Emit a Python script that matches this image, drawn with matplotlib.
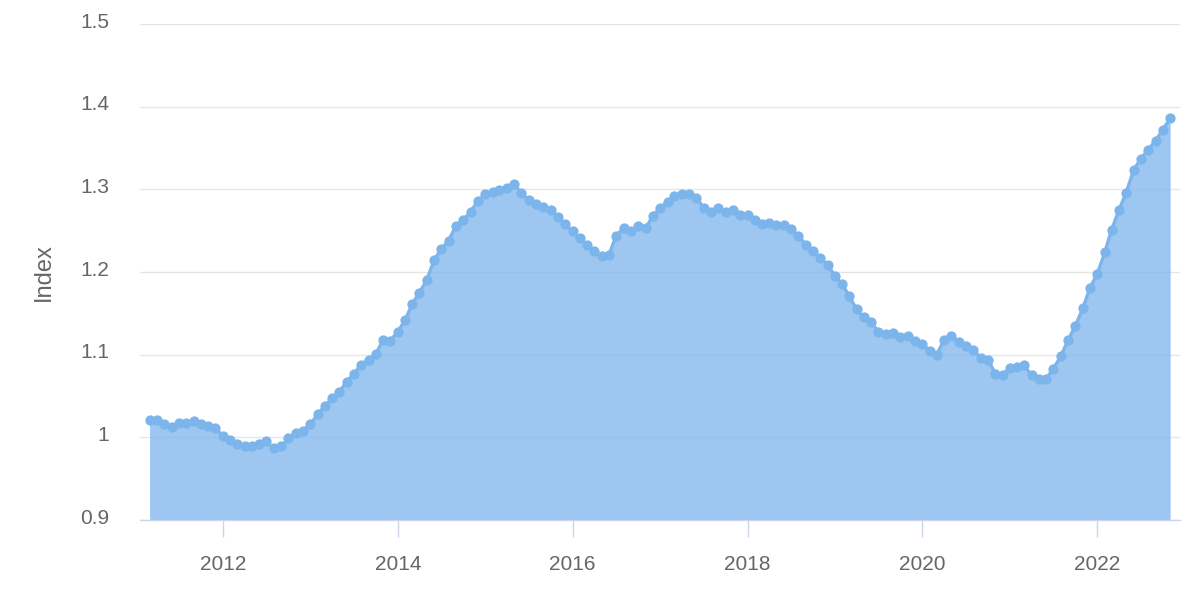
import numpy as np
import pandas as pd
import matplotlib
matplotlib.use("Agg")
import matplotlib.pyplot as plt
import matplotlib.dates as mdates
from matplotlib.transforms import ScaledTranslation

plt.rcParams['font.family'] = ['Liberation Sans', 'DejaVu Sans']

# monthly index, first point March 2011
start_month = "2011-03-01"
index_values = [
    1.021, 1.021, 1.016, 1.013, 1.017, 1.017, 1.020, 1.016, 1.014, 1.011,
    1.002, 0.997, 0.992, 0.989, 0.989, 0.992, 0.995, 0.987, 0.989, 0.999,
    1.005, 1.008, 1.016, 1.028, 1.038, 1.047, 1.055, 1.067, 1.077, 1.088,
    1.094, 1.101, 1.118, 1.117, 1.128, 1.142, 1.161, 1.175, 1.190, 1.214,
    1.228, 1.238, 1.256, 1.263, 1.273, 1.286, 1.294, 1.297, 1.299, 1.302,
    1.306, 1.296, 1.287, 1.282, 1.279, 1.275, 1.266, 1.258, 1.249, 1.241,
    1.233, 1.225, 1.219, 1.221, 1.244, 1.253, 1.249, 1.256, 1.253, 1.268,
    1.278, 1.285, 1.292, 1.294, 1.294, 1.290, 1.278, 1.273, 1.278, 1.272,
    1.275, 1.269, 1.269, 1.263, 1.258, 1.259, 1.257, 1.257, 1.252, 1.244,
    1.233, 1.225, 1.217, 1.209, 1.195, 1.185, 1.171, 1.155, 1.145, 1.139,
    1.128, 1.125, 1.126, 1.121, 1.123, 1.116, 1.113, 1.105, 1.100, 1.118,
    1.123, 1.115, 1.110, 1.106, 1.096, 1.094, 1.077, 1.076, 1.084, 1.085,
    1.087, 1.075, 1.071, 1.071, 1.083, 1.098, 1.118, 1.135, 1.156, 1.181,
    1.198, 1.224, 1.251, 1.275, 1.296, 1.323, 1.337, 1.348, 1.359, 1.372,
    1.386,
]
y_ticks = [0.9, 1.0, 1.1, 1.2, 1.3, 1.4, 1.5]
y_tick_labels = ["0.9", "1", "1.1", "1.2", "1.3", "1.4", "1.5"]

dates = pd.date_range(start_month, periods=len(index_values), freq="MS")

line_col = "#7cb5ec"
text_col = "#666666"

fig = plt.figure(figsize=(12, 6.16), dpi=100)
ax = fig.add_axes([140 / 1200, 96 / 616, 1040 / 1200, 496 / 616])

ax.fill_between(dates, index_values, 0.9, color=line_col, alpha=0.75, linewidth=0, zorder=2)
ax.plot(dates, index_values, color=line_col, linewidth=2.4, marker="o", markersize=7.4,
        markeredgewidth=0, zorder=3)

ax.set_ylim(0.9, 1.5)
ax.set_xlim(pd.Timestamp("2011-01-20"), pd.Timestamp("2022-12-12"))
ax.set_yticks(y_ticks)
ax.set_yticklabels(y_tick_labels)
ax.xaxis.set_major_locator(mdates.YearLocator(2))
ax.xaxis.set_major_formatter(mdates.DateFormatter("%Y"))

ax.grid(axis="y", color="#e6e6e6", linewidth=1.0, zorder=0)
ax.set_axisbelow(True)
for s in ["top", "right", "left"]:
    ax.spines[s].set_visible(False)
ax.spines["bottom"].set_color("#ccd6eb")
ax.spines["bottom"].set_linewidth(1.0)
ax.spines["bottom"].set_zorder(4)

ax.tick_params(axis="y", length=0, pad=22, labelsize=15, labelcolor=text_col)
ax.tick_params(axis="x", length=12.5, width=1.0, color="#ccd6eb", pad=13,
               labelsize=15, labelcolor=text_col)

# nudge y labels a little above their grid lines
for lab in ax.get_yticklabels():
    lab.set_transform(lab.get_transform() + ScaledTranslation(0, 4 / 100, fig.dpi_scale_trans))

ax.set_ylabel("Index", fontsize=17, color=text_col, va="center")
ax.yaxis.set_label_coords((44 - 140) / 1040, 0.5)

fig.savefig("out.png", dpi=100)
